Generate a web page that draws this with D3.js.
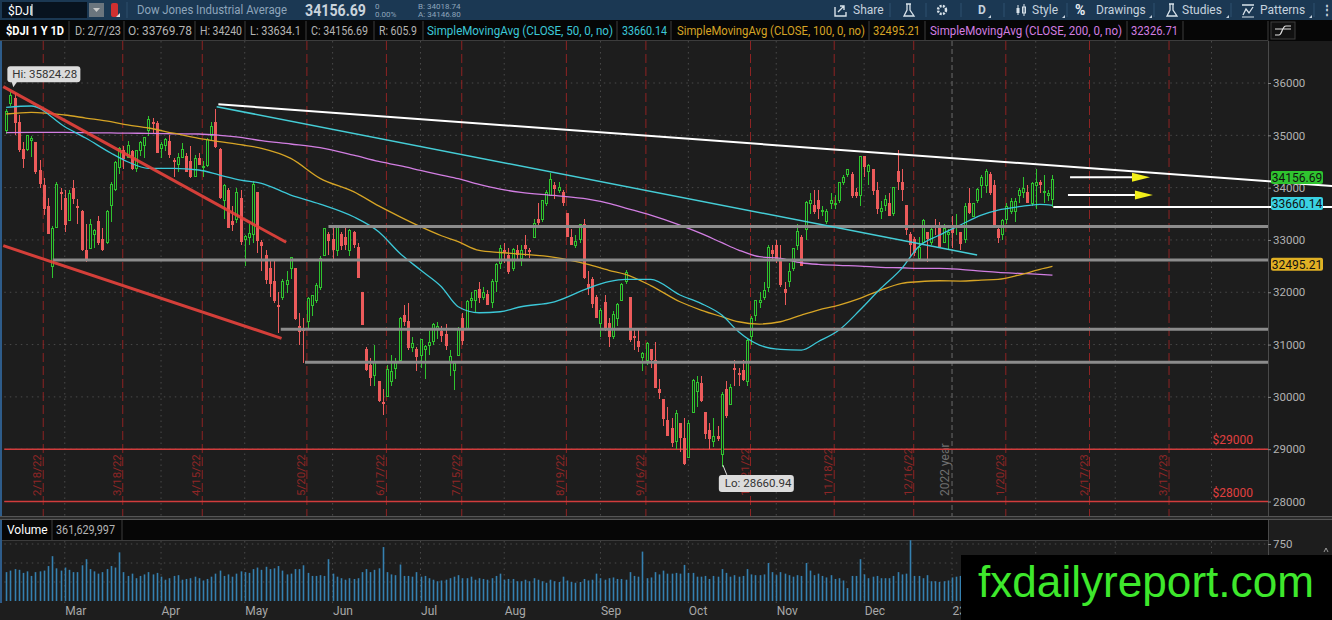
<!DOCTYPE html>
<html>
<head>
<meta charset="utf-8">
<script src="https://cdn.jsdelivr.net/npm/d3@7"></script>
<style>
  body { margin: 0; background: #1d1d1d; overflow: hidden; }
  svg { display: block; font-family: Roboto, "Open Sans", sans-serif; }
</style>
</head>
<body>
<script>
// ---- data ----
var firstDay = "2022-02-08";
var holidays = ["2022-02-21","2022-04-15","2022-05-30","2022-06-20","2022-07-04","2022-09-05",
                "2022-11-24","2022-12-26","2023-01-02","2023-01-16","2023-02-20","2023-04-07"];

// daily candles [open, high, low, close], Feb 8 2022 .. Feb 7 2023
var ohlc = [
  [35091,35500,35020,35463],[35600,35824,35560,35768],[35700,35800,35000,35241],[35250,35390,34680,34738],
  [34720,34870,34370,34566],[34720,35000,34700,34989],[34900,34990,34580,34934],[34860,34880,34270,34312],
  [34330,34520,34000,34079],[34050,34180,33480,33597],[33640,33800,33120,33132],[32500,33260,32273,33224],
  [33240,34100,33230,34059],[33900,34000,33570,33893],
  // Mar
  [33800,33950,33150,33295],[33370,33950,33370,33891],[33980,34150,33680,33795],[33640,33790,33300,33615],
  [33550,33580,32780,32818],[32800,33300,32580,32633],[32840,33400,32840,33287],[33100,33200,32840,33174],
  [33350,33460,32900,32945],[33000,33220,32790,32818],[32950,33580,32930,33545],[33650,34100,33350,34063],
  [33970,34500,33930,34481],[34380,34770,34270,34755],[34710,34800,34350,34553],[34580,34900,34560,34808],
  [34700,34720,34340,34359],[34370,34720,34300,34708],[34710,34900,34600,34862],[34800,34970,34560,34956],
  [35100,35370,34990,35294],[35240,35340,35050,35229],[35220,35270,34670,34678],
  // Apr
  [34740,34880,34560,34818],[34800,34950,34700,34922],[34880,35000,34570,34641],[34510,34570,34200,34497],
  [34440,34660,34300,34584],[34580,34850,34560,34721],[34600,34670,34300,34308],[34500,34800,34190,34221],
  [34220,34620,34200,34565],[34560,34660,34440,34451],[34400,34500,34200,34412],[34420,34950,34400,34912],
  [35000,35250,34900,35161],[35250,35500,34750,34793],[34730,34750,33780,33811],[33750,34070,33400,34049],
  [33950,34000,33220,33240],[33360,33650,33180,33302],[33400,34000,33330,33916],[33800,33950,32900,32977],
  // May
  [33000,33100,32500,33061],[33050,33300,32900,33129],[33100,34120,32950,34061],[33900,33900,32750,32998],
  [32950,33000,32400,32899],[32700,32800,32150,32246],[32450,32600,31900,32161],[32200,32600,31800,31834],
  [31750,32000,31230,31730],[31900,32250,31850,32197],[32150,32400,31980,32223],[32450,32680,32250,32655],
  [32450,32450,31460,31490],[31350,31600,31000,31253],[31300,31500,30640,31262],[31450,31900,31300,31880],
  [31750,31950,31540,31929],[31850,32180,31800,32120],[32100,32700,32050,32637],[32700,33213,32700,33213],
  [33100,33150,32720,32990],
  // Jun
  [33000,33250,32600,32813],[32800,33250,32700,33248],[33100,33150,32800,32900],[33050,33270,32800,32916],
  [32800,33200,32700,33180],[33150,33180,32850,32910],[32850,32950,32270,32273],[32000,32000,31390,31393],
  [30900,30950,30500,30517],[30600,30750,30200,30365],[30400,31000,30200,30668],[30300,30300,29900,29927],
  [29900,30150,29650,29889],[30000,30600,30000,30530],[30300,30800,30200,30484],[30550,30750,30350,30677],
  [30700,31520,30700,31501],[31550,31750,31350,31439],[31450,31800,30900,30947],[30950,31150,30850,31029],
  [30900,30950,30500,30775],
  // Jul
  [30800,31100,30550,31097],[30900,31000,30350,30968],[30980,31250,30800,31037],[31050,31420,31000,31385],
  [31300,31440,31100,31338],[31250,31350,31050,31173],[31200,31400,30900,30982],[30650,30900,30400,30773],
  [30500,30650,30140,30630],[30800,31330,30800,31288],[31500,31600,31000,31073],[31300,31850,31300,31827],
  [31850,32000,31700,31875],[31850,32050,31600,32036],[32050,32200,31800,31899],[31900,32100,31850,31990],
  [31950,32050,31750,31762],[31800,32250,31700,32198],[32200,32550,32000,32529],[32550,32900,32450,32845],
  // Aug
  [32800,32950,32550,32798],[32700,32850,32350,32397],[32450,32850,32400,32813],[32800,32900,32600,32727],
  [32650,32900,32500,32803],[32900,33100,32700,32832],[32800,32850,32650,32775],[33050,33400,33050,33310],
  [33400,33700,33250,33337],[33400,33770,33350,33761],[33700,33950,33650,33913],[33850,34280,33850,34152],
  [34050,34100,33780,33981],[33950,34100,33900,33999],[33900,33950,33650,33707],[33500,33500,33050,33064],
  [33050,33200,32900,32910],[32900,33100,32850,32970],[33000,33300,32950,33292],[33300,33400,32250,32283],
  [32150,32400,31950,32099],[32250,32300,31700,31791],[31900,31950,31500,31510],
  // Sep
  [31400,31700,31150,31656],[31800,31950,31250,31318],[31400,31500,30950,31146],[31150,31650,31100,31581],
  [31500,31800,31350,31775],[31850,32170,31850,32152],[32200,32420,32150,32381],[31900,31900,31050,31105],
  [31150,31300,30900,31135],[31050,31300,30850,30962],[30750,30850,30500,30822],[30700,31050,30600,31020],
  [30900,30900,30550,30706],[30700,31050,30170,30184],[30150,30350,29950,30077],[29950,29950,29450,29590],
  [29550,29800,29250,29261],[29400,29600,29050,29135],[29150,29750,29000,29684],[29500,29500,28950,29226],
  [29200,29600,28700,28726],
  // Oct
  [28850,29550,28850,29491],[29700,30350,29700,30317],[30100,30400,29800,30274],[30250,30400,29900,29927],
  [29700,29700,29200,29297],[29350,29500,29000,29203],[29150,29600,29050,29240],[29250,29450,29150,29211],
  [28900,30100,28661,30039],[30150,30300,29600,29635],[29850,30250,29850,30186],[30550,30700,30200,30524],
  [30450,30550,30200,30424],[30500,30700,30300,30334],[30300,31100,30200,31083],[31150,31550,31000,31500],
  [31550,31850,31450,31837],[31800,32000,31700,31839],[31900,32200,31850,32033],[32100,32900,32000,32862],
  [32800,32900,32600,32733],
  // Nov
  [32900,33000,32550,32653],[32650,32900,32100,32148],[32050,32200,31750,32001],[32200,32550,32100,32403],
  [32450,32850,32400,32827],[32900,33300,32800,33161],[33050,33100,32500,32514],[33200,33750,33000,33716],
  [33700,33900,33500,33748],[33650,33950,33500,33537],[33750,33950,33400,33593],[33550,33650,33450,33554],
  [33350,33600,33300,33547],[33700,33900,33600,33746],[33700,33850,33600,33701],[33750,34100,33700,34098],
  [34100,34250,34050,34194],[34250,34350,34200,34347],[34250,34300,33800,33850],[33900,34000,33800,33853],
  [33850,34600,33650,34590],
  // Dec
  [34600,34600,34200,34395],[34300,34450,34050,34430],[34350,34350,33850,33947],[33950,34100,33500,33597],
  [33550,33750,33400,33598],[33650,33850,33550,33781],[33700,33900,33450,33476],[33500,34000,33450,34005],
  [34300,34712,33950,34108],[34100,34350,33750,33966],[33650,33650,33100,33202],[33100,33150,32700,32920],
  [33000,33050,32700,32757],[32650,33050,32600,32850],[32950,33400,32950,33377],[33150,33150,32580,33027],
  [32950,33230,32900,33204],[33250,33400,33100,33241],[33250,33350,32850,32876],[32950,33300,32950,33221],
  [33100,33200,32800,33147],
  // Jan 2023
  [33200,33450,32850,33137],[33250,33500,33100,33270],[33150,33150,32800,32930],[33000,33700,32950,33631],
  [33700,34000,33500,33518],[33450,33700,33450,33704],[33750,34000,33700,33973],[34050,34250,33800,34190],
  [34050,34350,33900,34303],[34250,34300,33850,33910],[34050,34150,33280,33297],[33200,33250,32950,33045],
  [33100,33400,33000,33375],[33400,33700,33300,33630],[33550,33800,33500,33734],[33550,33800,33350,33744],
  [33850,34000,33700,33949],[33900,34200,33800,33978],[33900,34050,33700,33717],[33700,34100,33650,34086],
  // Feb 2023
  [34050,34350,33600,34093],[34100,34150,33900,34054],[33900,34250,33700,33926],[33850,33950,33750,33891],
  [33770,34240,33634,34157]
];

// daily volume, millions
var volumes = [
  380,400,420,410,370,390,330,380,390,400,460,590,430,400,
  440,410,380,380,470,550,420,390,360,380,420,460,440,640,380,330,360,300,330,350,380,350,370,
  320,280,300,330,340,280,290,300,320,300,270,290,320,360,400,330,350,320,360,390,
  380,370,420,440,410,450,420,430,460,400,350,360,420,420,470,370,330,330,340,330,550,
  360,320,300,280,300,290,300,380,420,380,410,430,710,380,350,340,480,330,330,320,380,
  320,330,300,280,260,270,280,300,320,340,300,300,320,280,300,290,280,300,330,360,
  280,290,290,260,260,280,260,300,280,260,240,280,260,250,320,270,250,240,250,290,270,280,360,
  300,280,300,310,290,290,280,380,330,320,650,300,310,380,350,400,360,360,370,360,475,
  370,370,320,320,330,290,330,320,420,370,320,340,320,330,420,350,340,340,350,500,380,
  340,380,360,340,320,340,330,500,400,340,360,330,310,340,290,300,270,170,330,330,550,
  350,300,320,330,300,300,300,330,380,350,360,800,330,330,300,340,260,260,250,260,270,
  310,320,330,350,370,330,320,330,320,400,370,340,450,320,310,310,320,300,290,360,
  380,370,340,300,362
];

// moving averages at these trading days
var smaDays = [0,6,14,19,25,29,34,40,46,51,56,61,68,75,83,89,94,99,104,108,113,118,123,131,139,144,148,154,
               161,166,171,175,180,185,190,194,199,204,209,214,218,223,228,233,237,242,247,250];
var sma50 = [35535,35560,35164,34948,34662,34495,34369,34369,34337,34241,34145,34082,33858,33686,33443,33157,
             32750,32425,32105,31723,31608,31627,31723,31818,32075,32201,32247,32247,31947,31788,31564,31245,
             30990,30908,30895,31054,31277,31660,32075,32457,32870,33094,33285,33476,33572,33635,33681,33660];
var sma100 = [35407,35440,35388,35330,35260,35200,35140,35040,34943,34880,34820,34752,34560,34178,33922,33650,
              33446,33253,33080,32966,32800,32760,32730,32667,32533,32420,32342,32128,31818,31660,31532,31436,
              31392,31436,31564,31660,31755,31883,32042,32170,32201,32220,32214,32233,32247,32329,32438,32495];
var sma200 = [35050,35055,35057,35050,35045,35040,35038,35030,35025,35000,34960,34897,34834,34763,34620,34500,
              34420,34330,34240,34170,34060,33970,33910,33850,33780,33700,33610,33476,33285,33126,32947,32807,
              32679,32648,32564,32533,32514,32501,32476,32468,32457,32457,32438,32405,32381,32361,32342,32327];

var priceTicks = [28000,29000,30000,31000,32000,33000,34000,35000,36000];
var volumeGrid = [250,500,750];
var volumeTicks = [750];
var monthLabels = ["Mar","Apr","May","Jun","Jul","Aug","Sep","Oct","Nov","Dec","23","Feb","Mar","Apr"];
var expiries = ["2022-02-18","2022-03-18","2022-04-15","2022-05-20","2022-06-17","2022-07-15","2022-08-19",
                "2022-09-16","2022-10-21","2022-11-18","2022-12-16","2023-01-20","2023-02-17","2023-03-17"];
var alertLevels = [29000, 28000];
var lastClose = 34156.69, lastSma50 = 33660.14, lastSma100 = 32495.21;
var hiValue = 35824.28, loValue = 28660.94;
var lastVolume = 361629997;

// drawings, in [day, price] units
var redChannel = [[-0.7, 35930, 66.9, 32955], [-0.7, 32890, 65.8, 31119]];
var grayLevels = [[77, 33257], [11.1, 32616], [65.6, 31292], [71.4, 30660]];
var whiteTrend = [50.7, 35593, 316.8, 34031];
var cyanTrend = [50.3, 35547, 232, 32712];
var whiteLevel = [250.2, 33630, 316.8];
var arrows = [[254.2, 269, 273.3, 34197], [253.7, 269.7, 274, 33859]];

// ---- layout ----
var W = 1332, H = 620;
var plotL = 4.3, plotR = 1268, priceTop = 41, priceBot = 516;

function tradingCalendar(start, count) {
  var out = [], d = new Date(start + "T00:00:00Z");
  while (out.length < count) {
    var s = d.toISOString().slice(0, 10), wd = d.getUTCDay();
    if (wd !== 0 && wd !== 6 && holidays.indexOf(s) < 0) out.push(s);
    d.setUTCDate(d.getUTCDate() + 1);
  }
  return out;
}
var days = tradingCalendar(firstDay, 305);
var monthStarts = [];
days.forEach(function(s, i) { if (i > 0 && s.slice(5, 7) !== days[i - 1].slice(5, 7)) monthStarts.push(i); });
function dayIndex(s) { return d3.bisectRight(days, s) - 1; }
var fmtExp = d3.utcFormat("%-m/%-d/%y");

var x = d3.scaleLinear().domain([-0.45, 301.5]).range([plotL, plotR]);
var y = d3.scaleLinear().domain([28000, 36000]).range([501.5, 83]);
var vy = d3.scaleLinear().domain([0, 750]).range([601, 544]);

var svg = d3.select("body").append("svg").attr("width", W).attr("height", H);
svg.append("rect").attr("width", W).attr("height", H).attr("fill", "#1d1d1d");

// ---- top toolbar ----
var tb = svg.append("g").style("font-size", "12px");
tb.append("rect").attr("width", W).attr("height", 20).attr("fill", "#1b3853");
tb.append("rect").attr("x", 2).attr("y", 2).attr("width", 85).attr("height", 16).attr("fill", "#08131f");
tb.append("text").attr("x", 8).attr("y", 14.5).attr("fill", "#ffffff").text("$DJI");
tb.append("line").attr("x1", 32).attr("x2", 32).attr("y1", 4).attr("y2", 16).attr("stroke", "#fff");
tb.append("rect").attr("x", 89).attr("y", 3).attr("width", 15).attr("height", 14).attr("fill", "#6b757e");
tb.append("path").attr("d", "M93,8 L100,8 L96.5,12 Z").attr("fill", "#c8c8c8");
tb.append("rect").attr("x", 111).attr("y", 3).attr("width", 7).attr("height", 14).attr("rx", 2).attr("fill", "#d03030");
tb.append("path").attr("d", "M116,17 L120,17 L120,13 Z").attr("fill", "#ddd");
tb.append("line").attr("x1", 127).attr("x2", 127).attr("y1", 2).attr("y2", 18).attr("stroke", "#2e4f6d");
tb.append("text").attr("x", 137).attr("y", 14).attr("fill", "#8ea5bb")
  .attr("textLength", 150).attr("lengthAdjust", "spacingAndGlyphs").text("Dow Jones Industrial Average");
tb.append("text").attr("x", 305).attr("y", 15.5).attr("fill", "#c9d3dc").style("font-size", "16px")
  .style("font-weight", "bold").attr("textLength", 61).attr("lengthAdjust", "spacingAndGlyphs").text("34156.69");
tb.selectAll(".small").data([[375, 9, "0"], [375, 17, "0.00%"], [418, 9, "B: 34018.74"], [418, 17, "A: 34146.80"]])
  .join("text").attr("x", function(d) { return d[0]; }).attr("y", function(d) { return d[1]; })
  .attr("fill", "#8ea5bb").style("font-size", "8px").text(function(d) { return d[2]; });

var tbItems = [[853, "Share"], [978, "D"], [1032, "Style"], [1096, "Drawings"], [1182, "Studies"], [1260, "Patterns"]];
tb.selectAll(".tbi").data(tbItems).join("text").attr("x", function(d) { return d[0]; }).attr("y", 14)
  .attr("fill", "#c6d2de").style("font-weight", function(d) { return d[1] === "D" ? "bold" : "normal"; })
  .text(function(d) { return d[1]; });
tb.append("text").attr("x", 1075).attr("y", 15).attr("fill", "#e6edf3").style("font-size", "14px")
  .style("font-weight", "bold").text("%");
tb.append("text").attr("x", 1321).attr("y", 14).attr("fill", "#c6d2de").style("font-weight", "bold").text("⋮");
[890, 926, 961, 1004, 1067, 1154, 1231, 1314].forEach(function(sx) {
  tb.append("line").attr("x1", sx).attr("x2", sx).attr("y1", 3).attr("y2", 17).attr("stroke", "#2f5070");
});
[988, 1062, 1149, 1226, 1309].forEach(function(sx) {
  tb.append("path").attr("d", "M" + sx + ",18 L" + (sx + 3) + ",18 L" + (sx + 3) + ",15 Z").attr("fill", "#c6d2de");
});
// icons
tb.append("path").attr("d", "M835,7 L835,16 L846,16 L846,12 M838,12 L844,6 M840,6 L844,6 L844,10")
  .attr("fill", "none").attr("stroke", "#d8e2ea").attr("stroke-width", 1.4);
[904, 1167].forEach(function(px) {
  tb.append("path").attr("d", "M" + (px + 2) + ",4 L" + (px + 7) + ",4 M" + (px + 3) + ",4 L" + (px + 3) + ",10 L" + px +
    ",16 L" + (px + 10) + ",16 L" + (px + 6) + ",10 L" + (px + 6) + ",4")
    .attr("fill", "none").attr("stroke", "#d8e2ea").attr("stroke-width", 1.3);
});
tb.append("circle").attr("cx", 942).attr("cy", 10).attr("r", 4).attr("fill", "none")
  .attr("stroke", "#d8e2ea").attr("stroke-width", 2.5).attr("stroke-dasharray", "2,1.2");
tb.append("circle").attr("cx", 942).attr("cy", 10).attr("r", 1.5).attr("fill", "#1b3853");
tb.append("path").attr("d", "M1018,5 L1018,15 M1024,4 L1024,16").attr("stroke", "#d8e2ea").attr("stroke-width", 1);
tb.append("rect").attr("x", 1016.5).attr("y", 8).attr("width", 3).attr("height", 5).attr("fill", "#d8e2ea");
tb.append("rect").attr("x", 1022.5).attr("y", 7).attr("width", 3).attr("height", 6).attr("fill", "none").attr("stroke", "#d8e2ea");
tb.append("path").attr("d", "M1242,5 L1254,5 M1243,15 L1246,9 L1249,13 L1253,7").attr("fill", "none")
  .attr("stroke", "#d8e2ea").attr("stroke-width", 1.3);
tb.append("line").attr("x1", 1242).attr("x2", 1254).attr("y1", 17).attr("y2", 17).attr("stroke", "#d8e2ea");

// ---- header row ----
var hdr = svg.append("g").style("font-size", "12px");
hdr.append("rect").attr("y", 20).attr("width", W).attr("height", 21).attr("fill", "#060606");
var headerCells = [
  ["$DJI 1 Y 1D", "#ffffff", 6, 58], ["D: 2/7/23", "#b4b4b4", 75, 46], ["O: 33769.78", "#b4b4b4", 128, 64],
  ["H: 34240", "#b4b4b4", 200, 42], ["L: 33634.1", "#b4b4b4", 250, 51], ["C: 34156.69", "#b4b4b4", 311, 57],
  ["R: 605.9", "#b4b4b4", 379, 38], ["SimpleMovingAvg (CLOSE, 50, 0, no)", "#3cc8d8", 427, 186],
  ["33660.14", "#3cc8d8", 622, 45], ["SimpleMovingAvg (CLOSE, 100, 0, no)", "#d6a425", 677, 188],
  ["32495.21", "#d6a425", 873, 47], ["SimpleMovingAvg (CLOSE, 200, 0, no)", "#d27ee2", 930, 192],
  ["32326.71", "#d27ee2", 1131, 47]
];
hdr.selectAll("text").data(headerCells).join("text")
  .attr("x", function(d) { return d[2]; }).attr("y", 35)
  .attr("fill", function(d) { return d[1]; })
  .style("font-weight", function(d, i) { return i === 0 ? "bold" : "normal"; })
  .attr("textLength", function(d) { return d[3]; }).attr("lengthAdjust", "spacingAndGlyphs")
  .text(function(d) { return d[0]; });
[69, 124, 195, 245, 306, 374, 423, 617, 671, 869, 925, 1127, 1183, 1268].forEach(function(bx) {
  hdr.append("line").attr("x1", bx).attr("x2", bx).attr("y1", 21).attr("y2", 41).attr("stroke", "#3c3c3c");
});
hdr.append("line").attr("x1", 0).attr("x2", plotR).attr("y1", 40.5).attr("y2", 40.5).attr("stroke", "#3c3c3c");
hdr.append("rect").attr("x", 1271).attr("y", 22).attr("width", 24).attr("height", 17).attr("fill", "#111")
  .attr("stroke", "#3c3c3c");
hdr.append("path").attr("d", "M1275,35 L1279,35 C1282,35 1282,26 1286,26 L1291,26 M1275,29 L1291,29")
  .attr("fill", "none").attr("stroke", "#e0e0e0").attr("stroke-width", 1.2);

// ---- price panel ----
var pp = svg.append("g");
pp.append("line").attr("x1", 1).attr("x2", 1).attr("y1", priceTop).attr("y2", 603)
  .attr("stroke", "#2e5c8a").attr("stroke-width", 2);

// grids
pp.selectAll(".hg").data(priceTicks).join("line")
  .attr("x1", plotL).attr("x2", plotR).attr("y1", function(d) { return y(d); }).attr("y2", function(d) { return y(d); })
  .attr("stroke", "#4a4a4a").attr("stroke-dasharray", "1.5,4");
var yearStart = monthStarts[monthLabels.indexOf("23")];
pp.selectAll(".vg").data(monthStarts.filter(function(d) { return d !== yearStart; })).join("line")
  .attr("x1", function(d) { return x(d); }).attr("x2", function(d) { return x(d); })
  .attr("y1", priceTop).attr("y2", priceBot).attr("stroke", "#4a4a4a").attr("stroke-dasharray", "1.5,4");
pp.append("line").attr("x1", x(yearStart)).attr("x2", x(yearStart)).attr("y1", priceTop).attr("y2", priceBot)
  .attr("stroke", "#6a6a6a").attr("stroke-dasharray", "5,3");
pp.append("text").attr("transform", "translate(" + (x(yearStart) - 3) + ",496) rotate(-90)")
  .attr("fill", "#707070").style("font-size", "12px").text("2022 year");

// expirations
var expG = pp.append("g");
expiries.forEach(function(s) {
  var ex = x(dayIndex(s) + 0.85);
  expG.append("line").attr("x1", ex).attr("x2", ex).attr("y1", priceTop).attr("y2", priceBot)
    .attr("stroke", "#8e2323").attr("stroke-dasharray", "9,4");
  expG.append("text").attr("transform", "translate(" + (ex - 2) + ",496) rotate(-90)")
    .attr("fill", "#8e2626").style("font-size", "11.5px").text(fmtExp(new Date(s + "T00:00:00Z")));
});

// alert levels
pp.selectAll(".al").data(alertLevels).join("line")
  .attr("x1", plotL).attr("x2", plotR).attr("y1", function(d) { return y(d); }).attr("y2", function(d) { return y(d); })
  .attr("stroke", "#d23c3c").attr("stroke-width", 1.5);
pp.selectAll(".alt").data(alertLevels).join("text")
  .attr("x", 1253).attr("y", function(d) { return y(d) - 5; }).attr("text-anchor", "end")
  .attr("fill", "#e04040").style("font-size", "12px").text(function(d) { return "$" + d; });

// candles
var cg = pp.append("g").attr("shape-rendering", "crispEdges");
ohlc.forEach(function(c, i) {
  var up = c[3] >= c[0], col = up ? "#2fc42f" : "#ec5b5b", cx = Math.round(x(i)) + 0.5;
  cg.append("line").attr("x1", cx).attr("x2", cx).attr("y1", y(c[1])).attr("y2", y(c[2])).attr("stroke", col);
  var top = y(Math.max(c[0], c[3])), h = Math.max(1, Math.abs(y(c[0]) - y(c[3])));
  cg.append("rect").attr("x", cx - 1).attr("y", top).attr("width", 2).attr("height", h)
    .attr("fill", up ? "#1d1d1d" : col).attr("stroke", col);
});

// moving averages
var maLine = d3.line().x(function(d) { return x(d[0]); }).y(function(d) { return y(d[1]); }).curve(d3.curveMonotoneX);
[[sma200, "#d27ee2"], [sma100, "#d6a425"], [sma50, "#3cc8d8"]].forEach(function(m) {
  pp.append("path").datum(smaDays.map(function(d, i) { return [d, m[0][i]]; }))
    .attr("d", maLine).attr("fill", "none").attr("stroke", m[1]).attr("stroke-width", 1.3);
});

// drawings
var dg = pp.append("g");
grayLevels.forEach(function(g) {
  dg.append("line").attr("x1", x(g[0])).attr("x2", plotR).attr("y1", y(g[1])).attr("y2", y(g[1]))
    .attr("stroke", "#8c8c8c").attr("stroke-width", 3);
});
redChannel.forEach(function(r) {
  dg.append("line").attr("x1", x(r[0])).attr("y1", y(r[1])).attr("x2", x(r[2])).attr("y2", y(r[3]))
    .attr("stroke", "#e8433d").attr("stroke-width", 3).attr("opacity", 0.9);
});
dg.append("line").attr("x1", x(cyanTrend[0])).attr("y1", y(cyanTrend[1])).attr("x2", x(cyanTrend[2])).attr("y2", y(cyanTrend[3]))
  .attr("stroke", "#45cdd6").attr("stroke-width", 1.5);
arrows.forEach(function(a) {
  var ay = y(a[3]);
  dg.append("line").attr("x1", x(a[0])).attr("x2", x(a[1])).attr("y1", ay).attr("y2", ay)
    .attr("stroke", "#ffffff").attr("stroke-width", 2);
  dg.append("path").attr("d", "M" + x(a[1]) + "," + (ay - 4.5) + " L" + x(a[2]) + "," + ay + " L" + x(a[1]) + "," + (ay + 4.5) + " Z")
    .attr("fill", "#f2ee1a");
});

// hi / lo bubbles
var hiIdx = d3.maxIndex(ohlc, function(c) { return c[1]; }), loIdx = d3.minIndex(ohlc, function(c) { return c[2]; });
var hx = x(hiIdx), hy = y(hiValue), lx = x(loIdx), ly = y(loValue);
pp.append("path").attr("d", "M" + (hx + 1) + "," + (hy - 11) + " L" + (hx + 3) + "," + (hy - 5) + " L" + (hx + 7) + "," + (hy - 11) + " Z").attr("fill", "#dcdcdc");
pp.append("rect").attr("x", hx - 3).attr("y", hy - 26).attr("width", 73).attr("height", 16).attr("rx", 3).attr("fill", "#dcdcdc");
pp.append("text").attr("x", hx + 2).attr("y", hy - 14).attr("fill", "#333").style("font-size", "11.5px").text("Hi: " + hiValue);
pp.append("line").attr("x1", lx + 1).attr("y1", ly - 2).attr("x2", lx + 5).attr("y2", ly + 8).attr("stroke", "#dcdcdc");
pp.append("rect").attr("x", lx - 3).attr("y", ly + 8).attr("width", 75).attr("height", 17).attr("rx", 3).attr("fill", "#dcdcdc");
pp.append("text").attr("x", lx + 3).attr("y", ly + 20.5).attr("fill", "#333").style("font-size", "11.5px").text("Lo: " + loValue);

// right price axis
svg.append("rect").attr("x", plotR).attr("y", priceTop).attr("width", W - plotR).attr("height", priceBot - priceTop).attr("fill", "#1b1b1b");
svg.append("line").attr("x1", plotR + 0.5).attr("x2", plotR + 0.5).attr("y1", priceTop).attr("y2", 603).attr("stroke", "#4a4a4a");
var pAxis = svg.append("g").attr("transform", "translate(" + plotR + ",0)")
  .call(d3.axisRight(y).tickValues(priceTicks).tickSize(3).tickPadding(2).tickFormat(d3.format("d")));
pAxis.select(".domain").remove();
pAxis.selectAll("line").attr("stroke", "#888");
pAxis.selectAll("text").attr("fill", "#b2b2b2").style("font-size", "11.5px").style("font-family", "Roboto, sans-serif");

// white drawings run across the axis up to the window edge
var wtEnd = whiteTrend[2];
svg.append("line").attr("x1", x(whiteTrend[0])).attr("y1", y(whiteTrend[1])).attr("x2", x(wtEnd)).attr("y2", y(whiteTrend[3]))
  .attr("stroke", "#ffffff").attr("stroke-width", 2);
svg.append("line").attr("x1", x(whiteLevel[0])).attr("x2", x(whiteLevel[2])).attr("y1", y(whiteLevel[1])).attr("y2", y(whiteLevel[1]))
  .attr("stroke", "#ffffff").attr("stroke-width", 2);

// price bubbles
[[lastClose, "#2fc42f"], [lastSma50, "#3ad2e2"], [lastSma100, "#e0b024"]].forEach(function(b) {
  var by = y(b[0]) - 2;
  svg.append("rect").attr("x", 1271).attr("y", by - 6.5).attr("width", 52).attr("height", 13).attr("rx", 2).attr("fill", b[1]);
  svg.append("text").attr("x", 1297).attr("y", by + 4.5).attr("text-anchor", "middle").attr("fill", "#111")
    .style("font-size", "12px").text(d3.format(".2f")(b[0]));
});

// ---- volume panel ----
var vp = svg.append("g");
vp.append("rect").attr("x", 0).attr("y", 516).attr("width", W).attr("height", 3).attr("fill", "#2c2c2c");
vp.append("line").attr("x1", 0).attr("x2", W).attr("y1", 516.5).attr("y2", 516.5).attr("stroke", "#555");
vp.append("line").attr("x1", 0).attr("x2", W).attr("y1", 519.5).attr("y2", 519.5).attr("stroke", "#555");
vp.append("rect").attr("x", 2).attr("y", 520).attr("width", plotR - 2).attr("height", 20).attr("fill", "#060606");
vp.append("text").attr("x", 7).attr("y", 534).attr("fill", "#ffffff").style("font-size", "12px").text("Volume");
vp.append("text").attr("x", 56).attr("y", 534).attr("fill", "#b4b4b4").style("font-size", "12px")
  .attr("textLength", 59).attr("lengthAdjust", "spacingAndGlyphs").text(d3.format(",")(lastVolume));
[52, 122].forEach(function(bx) {
  vp.append("line").attr("x1", bx).attr("x2", bx).attr("y1", 520).attr("y2", 540).attr("stroke", "#3c3c3c");
});
vp.append("line").attr("x1", 2).attr("x2", plotR).attr("y1", 540.5).attr("y2", 540.5).attr("stroke", "#3c3c3c");
vp.selectAll(".vhg").data(volumeGrid).join("line")
  .attr("x1", plotL).attr("x2", plotR).attr("y1", function(d) { return vy(d); }).attr("y2", function(d) { return vy(d); })
  .attr("stroke", "#4a4a4a").attr("stroke-dasharray", "1.5,4");
vp.selectAll(".vvg").data(monthStarts).join("line")
  .attr("x1", function(d) { return x(d); }).attr("x2", function(d) { return x(d); })
  .attr("y1", 541).attr("y2", 603).attr("stroke", "#4a4a4a").attr("stroke-dasharray", "1.5,4");
vp.selectAll(".vb").data(volumes).join("line")
  .attr("x1", function(d, i) { return Math.round(x(i)) + 0.5; }).attr("x2", function(d, i) { return Math.round(x(i)) + 0.5; })
  .attr("y1", function(d) { return vy(d); }).attr("y2", vy(0))
  .attr("stroke", "#3580b0").attr("stroke-width", 1.6);
var vAxis = vp.append("g").attr("transform", "translate(" + plotR + ",0)")
  .call(d3.axisRight(vy).tickValues(volumeTicks).tickSize(3).tickPadding(2));
vAxis.select(".domain").remove();
vAxis.selectAll("line").attr("stroke", "#888");
vAxis.selectAll("text").attr("fill", "#b2b2b2").style("font-size", "11.5px").style("font-family", "Roboto, sans-serif");
vp.append("path").attr("d", "M1324,552 L1326,548 L1328,552 M1324,555 L1326,559 L1328,555")
  .attr("fill", "none").attr("stroke", "#999");

// month axis
var mAxis = svg.append("g").attr("transform", "translate(0,604)")
  .call(d3.axisBottom(x).tickValues(monthStarts).tickSize(0).tickPadding(2)
    .tickFormat(function(d, i) { return monthLabels[i]; }));
mAxis.select(".domain").remove();
mAxis.selectAll("text").attr("text-anchor", "start").attr("fill", "#a8a8a8")
  .style("font-size", "12px").style("font-family", "Roboto, sans-serif");

// watermark
svg.append("rect").attr("x", 961).attr("y", 555).attr("width", W - 961).attr("height", H - 555).attr("fill", "#000");
svg.append("text").attr("x", 978).attr("y", 597).attr("fill", "#3ee82c")
  .style("font-family", "'Liberation Sans', Arial, sans-serif").style("font-size", "44px")
  .attr("textLength", 336).attr("lengthAdjust", "spacingAndGlyphs").text("fxdailyreport.com");
</script>
</body>
</html>
